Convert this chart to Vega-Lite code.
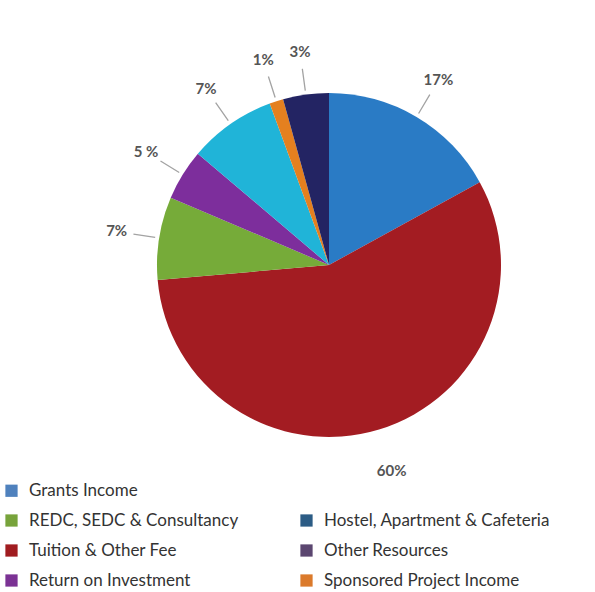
{
  "$schema": "https://vega.github.io/schema/vega-lite/v6.json",
  "width": 532,
  "height": 530,
  "autosize": {"type": "none"},
  "padding": {"left": 63, "top": 0, "right": 0, "bottom": 62},
  "background": "white",
  "config": {"view": {"stroke": null}},
  "data": {
    "values": [
      {"category": "Grants Income", "share": 17.0, "label": "17%"},
      {"category": "Tuition & Other Fee", "share": 56.6, "label": "60%"},
      {"category": "REDC, SEDC & Consultancy", "share": 7.8, "label": "7%"},
      {"category": "Return on Investment", "share": 4.8, "label": "5 %"},
      {"category": "Hostel, Apartment & Cafeteria", "share": 8.2, "label": "7%"},
      {"category": "Sponsored Project Income", "share": 1.3, "label": "1%"},
      {"category": "Other Resources", "share": 4.3, "label": "3%"}
    ]
  },
  "transform": [{"window": [{"op": "row_number", "as": "slice_order"}]}],
  "layer": [
    {
      "mark": {"type": "arc", "outerRadius": 172},
      "encoding": {
        "theta": {"field": "share", "type": "quantitative", "stack": true},
        "order": {"field": "slice_order", "type": "quantitative"},
        "color": {
          "field": "category",
          "type": "nominal",
          "scale": {
            "domain": ["Grants Income", "Tuition & Other Fee", "REDC, SEDC & Consultancy", "Return on Investment", "Hostel, Apartment & Cafeteria", "Sponsored Project Income", "Other Resources"],
            "range": ["#2A7BC5", "#A31C22", "#76AB39", "#7D2E9C", "#20B4D8", "#E4801F", "#232463"]
          },
          "legend": null
        }
      }
    },
    {
      "mark": {"type": "arc", "innerRadius": 176, "outerRadius": 198, "padAngle": 3.1, "fill": "transparent", "stroke": "#a3a3a3", "strokeWidth": 1.3},
      "encoding": {
        "theta": {"field": "share", "type": "quantitative", "stack": true},
        "order": {"field": "slice_order", "type": "quantitative"},
        "strokeOpacity": {
          "condition": {"test": "datum.share > 45", "value": 0},
          "value": 1
        }
      }
    },
    {
      "mark": {"type": "text", "radius": 215, "font": "Lato", "fontSize": 15, "fontWeight": "bold", "fill": "#555555"},
      "encoding": {
        "theta": {"field": "share", "type": "quantitative", "stack": true},
        "order": {"field": "slice_order", "type": "quantitative"},
        "text": {"field": "label", "type": "nominal"}
      }
    },
    {
      "transform": [{"filter": "false"}],
      "mark": {"type": "square", "opacity": 1},
      "encoding": {
        "fill": {
          "field": "category",
          "type": "nominal",
          "scale": {
            "domain": ["Grants Income", "REDC, SEDC & Consultancy", "Tuition & Other Fee", "Return on Investment", " ", "Hostel, Apartment & Cafeteria", "Other Resources", "Sponsored Project Income"],
            "range": ["#4F81BD", "#77A33B", "#A01C20", "#7B3294", "#ffffff", "#2C5C85", "#5B4670", "#DB7A2B"]
          },
          "legend": {
            "title": null,
            "orient": "none",
            "legendX": -60,
            "legendY": 482,
            "columns": 2,
            "symbolType": "square",
            "symbolSize": 150,
            "symbolStrokeWidth": 0,
            "symbolOpacity": 1,
            "labelFont": "Lato",
            "labelFontSize": 17,
            "labelColor": "#333333",
            "labelOffset": 9,
            "labelLimit": 300,
            "rowPadding": 12,
            "columnPadding": 59
          }
        }
      }
    }
  ]
}
